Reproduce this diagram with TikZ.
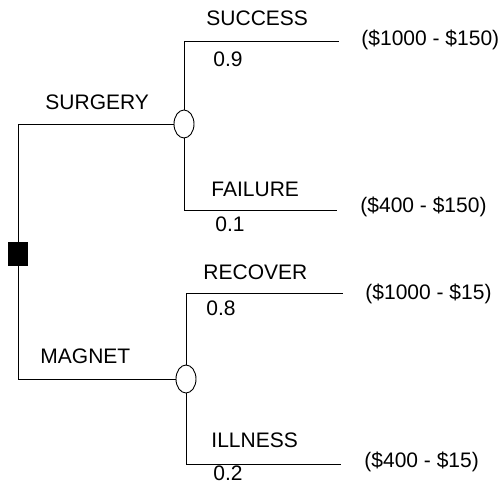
\documentclass[tikz,border=0pt]{standalone}
\usepackage{fontspec}
\setmainfont{Liberation Sans}
\usepackage{tikz}
\usetikzlibrary{positioning, shapes.geometric, calc}

\begin{document}
\begin{tikzpicture}[
  x=1pt, y=-1pt,
  font=\fontsize{21}{25}\selectfont,
  line width=0.9pt,
  decision/.style={draw, fill=black, rectangle, minimum width=19pt,
    minimum height=23pt, inner sep=0pt},
  chance/.style={draw, fill=white, ellipse, minimum width=20pt,
    minimum height=28pt, inner sep=0pt},
  lbl/.style={anchor=base west, inner sep=0pt},
  payoff/.style={lbl},
]
  \useasboundingbox (0,0) rectangle (498,497);

  % Decision and chance nodes
  \node[decision] (dec)  at (18,254)  {};
  \node[chance]   (surg) at (184,124) {};
  \node[chance]   (magn) at (186,379) {};

  % Branch ends
  \coordinate (succ) at (339,41);
  \coordinate (fail) at (337,210);
  \coordinate (reco) at (343,293);
  \coordinate (ill)  at (341,464);

  % Connectors
  \draw (dec.north) |- (surg.west);
  \draw (dec.south) |- (magn.west);
  \draw (surg.north) |- (succ);
  \draw (surg.south) |- (fail);
  \draw (magn.north) |- (reco);
  \draw (magn.south) |- (ill);

  % Decision labels
  \node[lbl] (surgl) at (45,110) {SURGERY};
  \node[lbl] (magnl) at (40,363) {MAGNET};

  % Outcome labels and probabilities
  \node[lbl] (succl) at (206,26)  {SUCCESS};
  \node[lbl] (succp) at (213,67)  {0.9};
  \node[lbl] (faill) at (211,197) {FAILURE};
  \node[lbl] (failp) at (215,232) {0.1};
  \node[lbl] (recol) at (203,279) {RECOVER};
  \node[lbl] (recop) at (206,315) {0.8};
  \node[lbl] (illl)  at (211,447) {ILLNESS};
  \node[lbl] (illp)  at (213,480) {0.2};

  % Payoffs
  \node[payoff] (succv) at (361,46)  {(\$1000 - \$150)};
  \node[payoff] (failv) at (360,213) {(\$400 - \$150)};
  \node[payoff] (recov) at (365,299) {(\$1000 - \$15)};
  \node[payoff] (illv)  at (364,467) {(\$400 - \$15)};
\end{tikzpicture}
\end{document}
